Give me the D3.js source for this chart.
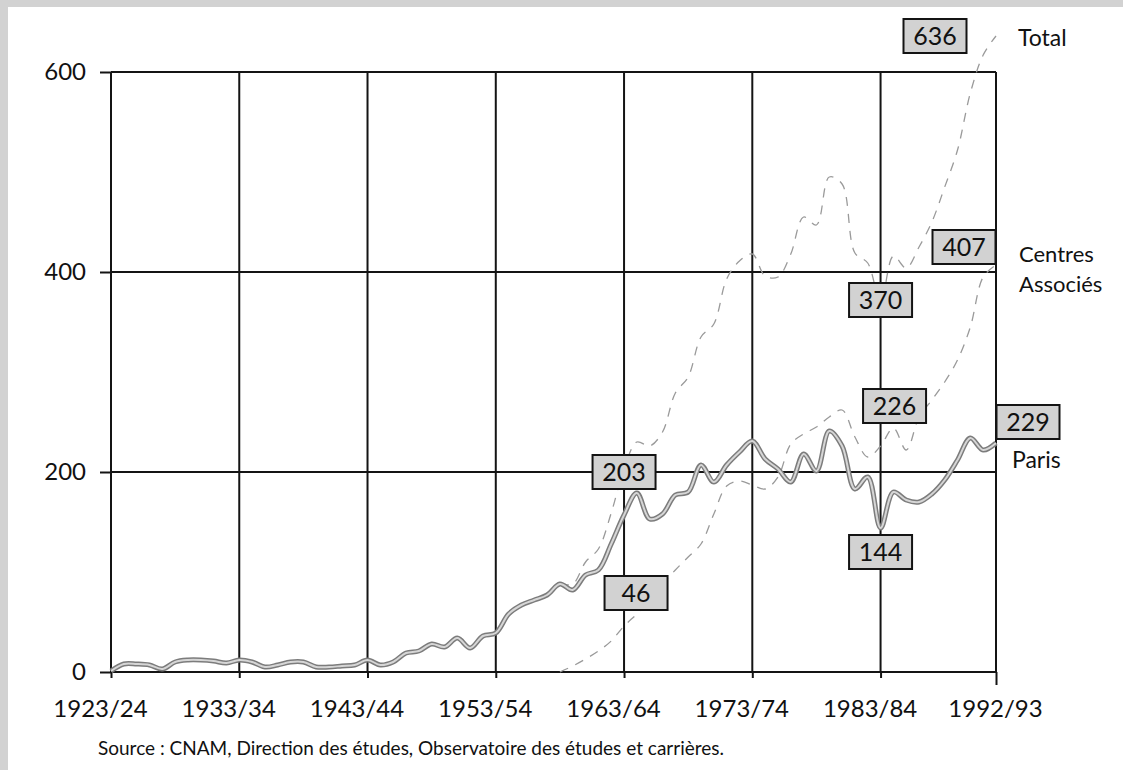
<!DOCTYPE html>
<html><head><meta charset="utf-8">
<script src="https://cdn.jsdelivr.net/npm/d3@7/dist/d3.min.js"></script>
<style>
body{margin:0;background:#fff;}
svg text{font-family:Lato,"Open Sans",sans-serif;font-weight:400;fill:#111;}
</style></head><body>
<svg id="c" width="1123" height="770"></svg>
<script>
// ---------- data ----------
const parisStartYear = 1923;
const parisValues = [
  1, 8, 8, 7, 3, 10, 12, 12, 11, 9,
  12, 10, 5, 7, 10, 10, 5, 5, 6, 7,
  12, 7, 10, 19, 21, 28, 25, 34, 24, 36,
  39, 58, 67, 72, 77, 88, 82, 97, 102, 128,
  157, 179, 153, 158, 177, 180, 207, 190, 207, 220,
  231, 213, 203, 190, 218, 201, 241, 226, 183, 195,
  144, 180, 172, 170, 178, 192, 212, 234, 222, 229
];
const centresStartYear = 1958;
const centresValues = [
  0, 6, 13, 21, 31, 46, 58, 72, 88, 102,
  115, 128, 158, 186, 191, 187, 183, 195, 228, 238,
  245, 255, 262, 235, 215, 226, 244, 222, 255, 272,
  290, 312, 345, 395, 407
];
const totalStartYear = 1958;
const totalValues = [
  88, 88, 110, 123, 159, 203, 230, 226, 240, 279,
  295, 335, 348, 393, 411, 418, 396, 395, 418, 455,
  447, 495, 488, 419, 409, 370, 416, 404, 425, 450,
  485, 522, 579, 617, 636
];
const xTickYears = [1923, 1933, 1943, 1953, 1963, 1973, 1983, 1992];
const xTickLabels = ["1923/24", "1933/34", "1943/44", "1953/54", "1963/64", "1973/74", "1983/84", "1992/93"];
const yTicks = [0, 200, 400, 600];
const seriesNames = ["Total", "Centres Associés", "Paris"];
const labelSeries = ["Total", "Centres", "Total", "Centres", "Paris", "Paris", "Total", "Centres"];
const labelYears  = [1992, 1992, 1983, 1983, 1983, 1992, 1963, 1963];
const labelValues = [636, 407, 370, 226, 144, 229, 203, 46];
const sourceText = "Source : CNAM, Direction des études, Observatoire des études et carrières.";

// ---------- layout ----------
const labelOffsets = [[-61,0],[-32,-18],[0,-2],[14,-40],[0,24],[32,-21],[0,3],[12,-33]];
const svg = d3.select("#c");
const x = d3.scaleLinear().domain([1923, 1992]).range([111, 996]);
const y = d3.scaleLinear().domain([0, 600]).range([672, 72]);

// scanned page background
svg.append("rect").attr("x",0).attr("y",0).attr("width",1123).attr("height",770).attr("fill","#d2d2d2");
svg.append("rect").attr("x",8).attr("y",7).attr("width",1115).attr("height",763).attr("fill","#fff");

// grid
const grid = svg.append("g").attr("stroke","#141414").attr("stroke-width",2);
grid.selectAll("line.h").data(yTicks).join("line").attr("class","h")
  .attr("x1", x(1923)).attr("x2", x(1992)).attr("y1", d=>y(d)).attr("y2", d=>y(d));
grid.selectAll("line.v").data(xTickYears).join("line").attr("class","v")
  .attr("x1", d=>x(d)).attr("x2", d=>x(d)).attr("y1", y(0)).attr("y2", y(600));

// y axis
const yAxis = svg.append("g").attr("transform",`translate(${x(1923)},0)`)
  .call(d3.axisLeft(y).tickValues(yTicks).tickSize(11).tickPadding(14).tickFormat(d3.format("d")));
yAxis.select(".domain").remove();
yAxis.selectAll("line").attr("stroke","#141414").attr("stroke-width",2);
yAxis.selectAll("text").attr("font-size",24).attr("font-family","Lato, sans-serif").attr("fill","#111");

// x axis
const xAxis = svg.append("g").attr("transform",`translate(0,${y(0)})`)
  .call(d3.axisBottom(x).tickValues(xTickYears).tickSize(6).tickPadding(22)
    .tickFormat((d,i)=>xTickLabels[i]));
xAxis.select(".domain").remove();
xAxis.selectAll("line").attr("stroke","#141414").attr("stroke-width",2)
  .attr("y2",(d,i)=> i===xTickYears.length-1 ? 13 : 6);
xAxis.selectAll("text").attr("font-size",24).attr("font-family","Lato, sans-serif").attr("fill","#111")
  .attr("dx",(d,i)=> i===xTickYears.length-1 ? -1 : -11);

// series
const toPts = (start, vals) => vals.map((v,i)=>({yr:start+i, v}));
const line = d3.line().x(d=>x(d.yr)).y(d=>y(d.v)).curve(d3.curveCatmullRom.alpha(0.5));
const dashed = [toPts(totalStartYear,totalValues), toPts(centresStartYear,centresValues)];
svg.append("g").selectAll("path").data(dashed).join("path")
  .attr("d", line).attr("fill","none").attr("stroke","#9a9a9a")
  .attr("stroke-width",1.3).attr("stroke-dasharray","9,8");
const paris = toPts(parisStartYear, parisValues);
svg.append("path").datum(paris).attr("d",line).attr("fill","none")
  .attr("stroke","#7c7c7c").attr("stroke-width",5).attr("stroke-linejoin","round");
svg.append("path").datum(paris).attr("d",line).attr("fill","none")
  .attr("stroke","#d6d6d6").attr("stroke-width",2).attr("stroke-linejoin","round");

// value boxes
const boxes = svg.append("g").selectAll("g").data(labelValues).join("g")
  .attr("transform",(d,i)=>`translate(${x(labelYears[i])+labelOffsets[i][0]},${y(d)+labelOffsets[i][1]})`);
boxes.append("rect").attr("x",-31.5).attr("y",-17).attr("width",63).attr("height",34)
  .attr("fill","#d2d2d2").attr("stroke","#141414").attr("stroke-width",2);
boxes.append("text").attr("text-anchor","middle").attr("dy","0.36em")
  .attr("font-size",25).text(d=>d);

// series names
const nameG = svg.append("g");
nameG.append("text").attr("x",1018).attr("y",46).attr("font-size",23).text(seriesNames[0]);
const ca = seriesNames[1].split(" ");
nameG.append("text").attr("x",1019).attr("y",262).attr("font-size",22).text(ca[0]);
nameG.append("text").attr("x",1019).attr("y",292).attr("font-size",22).text(ca[1]);
nameG.append("text").attr("x",1012).attr("y",468).attr("font-size",23).text(seriesNames[2]);

// source
svg.append("text").attr("x",98).attr("y",755).attr("font-size",19).text(sourceText);
</script>
</body></html>
